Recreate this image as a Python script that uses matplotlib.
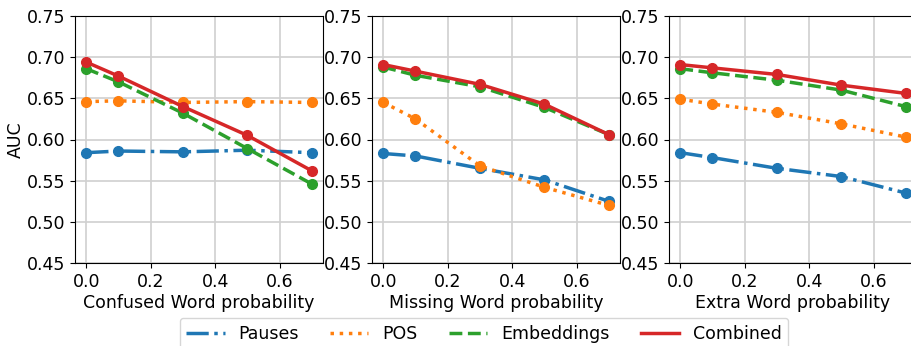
import matplotlib.pyplot as plt
import numpy as np

probs = [0.0, 0.1, 0.3, 0.5, 0.7]
xlabels = ['Confused Word probability', 'Missing Word probability', 'Extra Word probability']
names = ['Pauses', 'POS', 'Embeddings', 'Combined']

# confused word
conf_pauses = [0.584, 0.586, 0.585, 0.587, 0.584]
conf_pos = [0.646, 0.647, 0.645, 0.646, 0.645]
conf_emb = [0.686, 0.670, 0.632, 0.589, 0.546]
conf_comb = [0.694, 0.677, 0.640, 0.605, 0.562]

# missing word
miss_pauses = [0.583, 0.580, 0.565, 0.551, 0.525]
miss_pos = [0.645, 0.625, 0.568, 0.542, 0.520]
miss_emb = [0.688, 0.678, 0.664, 0.639, 0.606]
miss_comb = [0.691, 0.683, 0.667, 0.643, 0.606]

# extra word
extra_pauses = [0.584, 0.578, 0.565, 0.555, 0.535]
extra_pos = [0.649, 0.643, 0.633, 0.619, 0.603]
extra_emb = [0.686, 0.681, 0.672, 0.660, 0.640]
extra_comb = [0.691, 0.687, 0.679, 0.666, 0.656]

data = [
    [conf_pauses, conf_pos, conf_emb, conf_comb],
    [miss_pauses, miss_pos, miss_emb, miss_comb],
    [extra_pauses, extra_pos, extra_emb, extra_comb],
]

colors = ['tab:blue', 'tab:orange', 'tab:green', 'tab:red']
styles = ['-.', ':', '--', '-']

W, H = 911, 346
fig = plt.figure(figsize=(W / 100, H / 100), dpi=100)
lefts = [75, 372, 669]
pw = 248
top, bottom = 16, 263

for i in range(3):
    ax = fig.add_axes([lefts[i] / W, 1 - bottom / H, pw / W, (bottom - top) / H])
    for j in range(4):
        ax.plot(probs, data[i][j], linestyle=styles[j], color=colors[j], lw=2.5, label=names[j])
        ax.plot(probs, data[i][j], 'o', color=colors[j], ms=7)
    ax.set_ylim(0.45, 0.75)
    ax.set_yticks(np.arange(0.45, 0.76, 0.05))
    ax.set_xticks([0.0, 0.2, 0.4, 0.6])
    ax.grid(True, color='#d0d0d0', lw=1.2)
    ax.set_axisbelow(True)
    ax.tick_params(labelsize=12.5)
    ax.set_xlabel(xlabels[i], fontsize=12.5, labelpad=2)
    if i == 0:
        ax.set_ylabel('AUC', fontsize=12.5, labelpad=1)
        handles, labs = ax.get_legend_handles_labels()

fig.legend(handles, labs, loc='upper center', bbox_to_anchor=(484 / W, 1 - 309 / H),
           ncol=4, fontsize=12.5, handlelength=2.2, columnspacing=1.8, frameon=True)

fig.savefig('out.png', dpi=100)
